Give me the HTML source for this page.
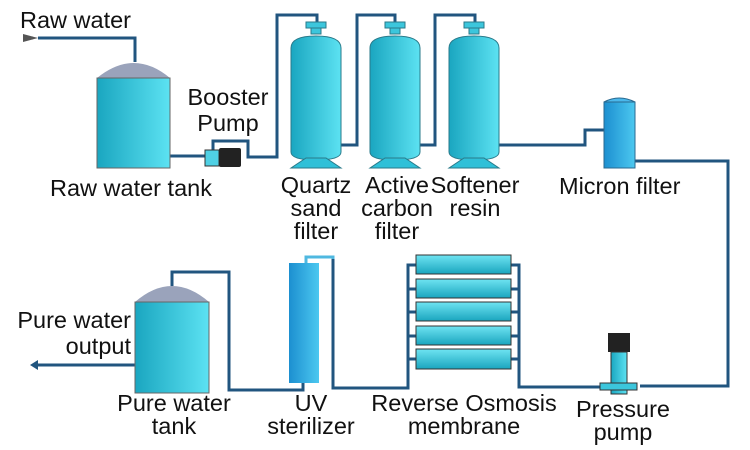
<!DOCTYPE html>
<html><head><style>
body{margin:0;background:#fff}
svg{display:block}
text{font-family:"Liberation Sans",Arial,sans-serif;font-size:23.5px;fill:#111}
</style></head><body>
<svg width="750" height="450" viewBox="0 0 750 450" xmlns="http://www.w3.org/2000/svg">
<defs>
<linearGradient id="g" x1="0" x2="1"><stop offset="0" stop-color="#1aa6c0"/><stop offset="1" stop-color="#5ce2f2"/></linearGradient>
<linearGradient id="gb" x1="0" x2="1"><stop offset="0" stop-color="#1c8fd0"/><stop offset="1" stop-color="#4cc8f0"/></linearGradient>
<linearGradient id="gv" x1="0" y1="0" x2="0" y2="1"><stop offset="0" stop-color="#6fe4f2"/><stop offset="1" stop-color="#1aa5be"/></linearGradient>
</defs>
<g fill="none" stroke="#21557f" stroke-width="3">
<path d="M38 38H135V62"/>
<path d="M170 156H207"/>
<path d="M213 150V141H248V157H277V15H317V24"/>
<path d="M341 145H357V15H395V24"/>
<path d="M420 145H435V15H475V24"/>
<path d="M499 145H585V130H604"/>
<path d="M635 161H728V386H640"/>
<path d="M600 387H519V265H511"/>
<path d="M519 289H511M519 312H511M519 336H511M519 359H511"/>
<path d="M416 265H408V388H333V258"/>
<path d="M416 289H408M416 312H408M416 336H408M416 359H408"/>
<path d="M303 383V390H229V272H172V286"/>
<path d="M135 365H35"/>
</g>
<path d="M333 259V257H306V264" fill="none" stroke="#4fb8e0" stroke-width="3"/>
<polygon points="23,34 38,38 23,42" fill="#555"/><path d="M23 38H33" stroke="#555" stroke-width="3"/>
<polygon points="30,365 38,360 38,370" fill="#21557f"/>
<path d="M97 78Q134 48 170 78Z" fill="#9aa3bb"/>
<rect x="97" y="78" width="73" height="90" fill="url(#g)" stroke="#666"/>
<rect x="205" y="150" width="14" height="16" fill="#4fd0e4" stroke="#333"/>
<rect x="219" y="148" width="22" height="19" rx="2" fill="#222"/>
<g stroke="#2a7a8a" stroke-width="1">
<g id="f"><rect x="306" y="22" width="20" height="6" fill="#3cc6dc"/><rect x="311" y="28" width="10" height="6" fill="#3cc6dc"/>
<path d="M291 152V48Q291 36 316 36Q341 36 341 48V152Q341 160 316 160Q291 160 291 152Z" fill="url(#g)"/>
<polygon points="306,158 326,158 341,168 291,168" fill="#2fc0d8"/></g>
<use href="#f" x="79"/><use href="#f" x="158"/>
</g>
<path d="M604 102Q619 94 635 102Z" fill="#4ab8ec" stroke="#2a6a90"/>
<rect x="604" y="102" width="31" height="66" fill="url(#gb)" stroke="#2a6a90"/>
<rect x="608" y="333" width="22" height="19" fill="#222"/>
<rect x="611" y="352" width="16" height="42" fill="url(#g)" stroke="#333"/>
<rect x="600" y="383" width="37" height="7" fill="#3cc6dc" stroke="#333"/>
<g fill="url(#gv)" stroke="#333">
<rect x="416" y="255" width="95" height="19"/><rect x="416" y="279" width="95" height="19"/><rect x="416" y="302" width="95" height="19"/><rect x="416" y="326" width="95" height="19"/><rect x="416" y="349" width="95" height="20"/>
</g>
<rect x="289" y="263" width="30" height="120" fill="url(#gb)"/>
<path d="M135 302Q172 270 209 302Z" fill="#9aa3bb"/>
<rect x="135" y="302" width="74" height="91" fill="url(#g)" stroke="#666"/>
<text x="20" y="28">Raw water</text>
<text x="50" y="196">Raw water tank</text>
<g text-anchor="middle">
<text x="228" y="105">Booster</text>
<text x="228" y="131">Pump</text>
<text x="316" y="193">Quartz</text><text x="316" y="216">sand</text><text x="316" y="239">filter</text>
<text x="397" y="193">Active</text><text x="397" y="216">carbon</text><text x="397" y="239">filter</text>
<text x="475" y="193">Softener</text><text x="475" y="216">resin</text>
<text x="174" y="411">Pure water</text><text x="174" y="434">tank</text>
<text x="311" y="411">UV</text><text x="311" y="434">sterilizer</text>
<text x="464" y="411">Reverse Osmosis</text><text x="464" y="434">membrane</text>
<text x="623" y="417">Pressure</text><text x="623" y="440">pump</text>
</g>
<text x="559" y="194">Micron filter</text>
<text x="131" y="328" text-anchor="end">Pure water</text>
<text x="131" y="354" text-anchor="end">output</text>
</svg>
</body></html>
